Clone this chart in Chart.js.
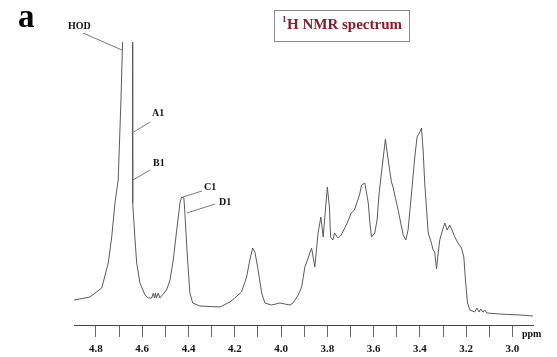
<!DOCTYPE html>
<html>
<head>
<meta charset="utf-8">
<script src="https://cdn.jsdelivr.net/npm/chart.js@4/dist/chart.umd.min.js"></script>
<style>
  html, body { margin: 0; padding: 0; background: #ffffff; }
  #wrap { width: 557px; height: 357px; position: relative; }
</style>
</head>
<body>
<div id="wrap"><canvas id="c" width="557" height="357"></canvas></div>
<script>
// Chemical shift (ppm) and signal intensity (arbitrary units)
const ppm = [
  4.895, 4.826, 4.775, 4.747, 4.732, 4.718, 4.704, 4.692, 4.685, 4.683,
  4.663,
  4.642, 4.641, 4.642, 4.641, 4.632, 4.624, 4.610, 4.588, 4.574, 4.559, 4.552,
  4.547, 4.543, 4.539, 4.531, 4.524, 4.495, 4.480, 4.466, 4.451, 4.437, 4.430,
  4.420, 4.416, 4.406, 4.394, 4.382, 4.351, 4.264, 4.221, 4.200, 4.171, 4.149,
  4.135, 4.123, 4.113, 4.099, 4.084, 4.070, 4.041, 4.005, 3.962, 3.948, 3.926,
  3.911, 3.897, 3.883, 3.868, 3.854, 3.840, 3.828, 3.818, 3.800, 3.791, 3.786,
  3.776, 3.769, 3.754, 3.740, 3.714, 3.697, 3.683, 3.661, 3.652, 3.638, 3.623,
  3.616, 3.609, 3.595, 3.585, 3.576, 3.566, 3.549, 3.537, 3.523, 3.516, 3.494,
  3.472, 3.461, 3.451, 3.436, 3.422, 3.412, 3.400, 3.393, 3.386, 3.379, 3.371,
  3.364, 3.350, 3.343, 3.336, 3.328, 3.321, 3.314, 3.302, 3.292, 3.282, 3.271,
  3.261, 3.249, 3.235, 3.220, 3.210, 3.202, 3.194, 3.184, 3.163, 3.153, 3.144,
  3.137, 3.127, 3.120, 3.110, 3.055, 2.968, 2.911
];
const intensity = [
  25, 28, 37, 62, 88, 122, 145, 225, 283, 295,
  420,
  295, 283, 145, 122, 88, 62, 42, 30, 27, 27, 32,
  27, 32, 27, 32, 27, 35, 45, 65, 95, 122, 128,
  127, 113, 72, 32, 22, 19, 18, 23, 27, 33, 48,
  65, 77, 73, 55, 32, 22, 20, 22, 20, 22, 30,
  38, 58, 67, 77, 58, 92, 108, 88, 138, 118, 88,
  85, 92, 87, 90, 102, 112, 115, 130, 140, 142, 122,
  102, 88, 92, 105, 132, 152, 186, 165, 143, 138, 115,
  90, 85, 95, 132, 168, 188, 193, 197, 175, 142, 115,
  92, 82, 75, 73, 56, 72, 85, 95, 102, 95, 100,
  95, 88, 82, 77, 68, 42, 22, 15, 13, 17, 13,
  16, 13, 15, 12, 11, 10, 9
];
// Axis ticks (every 0.1 ppm) and their labels
const tickValues = [4.8, 4.7, 4.6, 4.5, 4.4, 4.3, 4.2, 4.1, 4.0, 3.9, 3.8, 3.7, 3.6, 3.5, 3.4, 3.3, 3.2, 3.1, 3.0];
const tickLabels = ['4.8', '', '4.6', '', '4.4', '', '4.2', '', '4.0', '', '3.8', '', '3.6', '', '3.4', '', '3.2', '', '3.0'];
// Peak assignment labels
const peakNames = ['HOD', 'A1', 'B1', 'C1', 'D1'];
const peakPpm = [4.688, 4.637, 4.640, 4.424, 4.407];
const peakInt = [275, 193, 145, 128, 112];

const SERIF = '"Liberation Serif", "DejaVu Serif", serif';

const annotate = {
  id: 'annotate',
  afterDraw(chart) {
    const ctx = chart.ctx;
    const xs = chart.scales.x, ys = chart.scales.y;
    ctx.save();
    // panel letter
    ctx.fillStyle = '#000';
    ctx.font = 'bold 33px ' + SERIF;
    ctx.textBaseline = 'alphabetic';
    ctx.textAlign = 'left';
    ctx.fillText('a', 18, 27);

    // title box
    ctx.strokeStyle = '#8a8a8a';
    ctx.lineWidth = 1;
    ctx.strokeRect(274.5, 10.5, 135, 31);
    ctx.fillStyle = '#8b1a2b';
    ctx.font = 'bold 9px ' + SERIF;
    ctx.fillText('1', 282, 22);
    const w1 = ctx.measureText('1').width;
    ctx.font = 'bold 15px ' + SERIF;
    ctx.fillText('H NMR spectrum', 282 + w1 + 0.5, 29);

    // peak labels with leader lines
    const labelPos = [[68, 26, 83, 33], [152, 113, 150, 122], [153, 163, 150, 170], [204, 187, 202, 191], [219, 202, 215, 204]];
    ctx.font = 'bold 10px ' + SERIF;
    ctx.fillStyle = '#111';
    ctx.textBaseline = 'middle';
    ctx.strokeStyle = '#555';
    ctx.lineWidth = 0.8;
    for (let i = 0; i < peakNames.length; i++) {
      const p = labelPos[i];
      ctx.fillText(peakNames[i], p[0], p[1]);
      const ex = xs.getPixelForValue(peakPpm[i]);
      const ey = ys.getPixelForValue(peakInt[i]);
      ctx.beginPath();
      ctx.moveTo(p[2], p[3]);
      ctx.lineTo(ex, ey);
      ctx.stroke();
    }
    // axis unit
    ctx.fillStyle = '#111';
    ctx.font = 'bold 10px ' + SERIF;
    ctx.textBaseline = 'middle';
    ctx.fillText('ppm', 522, 334);
    ctx.restore();
  }
};

new Chart(document.getElementById('c'), {
  type: 'line',
  data: {
    datasets: [{
      data: ppm.map((v, i) => ({ x: v, y: intensity[i] })),
      borderColor: '#5a5a5a',
      borderWidth: 1,
      pointRadius: 0,
      tension: 0,
      fill: false
    }]
  },
  options: {
    responsive: false,
    animation: false,
    events: [],
    layout: { padding: { left: 74, right: 24, top: 42, bottom: 0 } },
    plugins: { legend: { display: false }, tooltip: { enabled: false } },
    scales: {
      x: {
        type: 'linear',
        reverse: true,
        min: 2.911,
        max: 4.895,
        afterBuildTicks: (scale) => { scale.ticks = tickValues.map(v => ({ value: v })); },
        afterFit: (scale) => { scale.height = 32; },
        ticks: {
          autoSkip: false,
          maxRotation: 0,
          padding: 6,
          color: '#111',
          font: { family: SERIF, weight: 'bold', size: 11 },
          callback: (value) => {
            const i = tickValues.findIndex(t => Math.abs(t - value) < 1e-6);
            return i >= 0 ? tickLabels[i] : '';
          }
        },
        grid: { drawOnChartArea: false, drawTicks: true, tickLength: 12, color: '#666', lineWidth: 1 },
        border: { display: true, color: '#444', width: 1 }
      },
      y: {
        display: false,
        min: 0,
        max: 283
      }
    }
  },
  plugins: [annotate]
});
</script>
</body>
</html>
